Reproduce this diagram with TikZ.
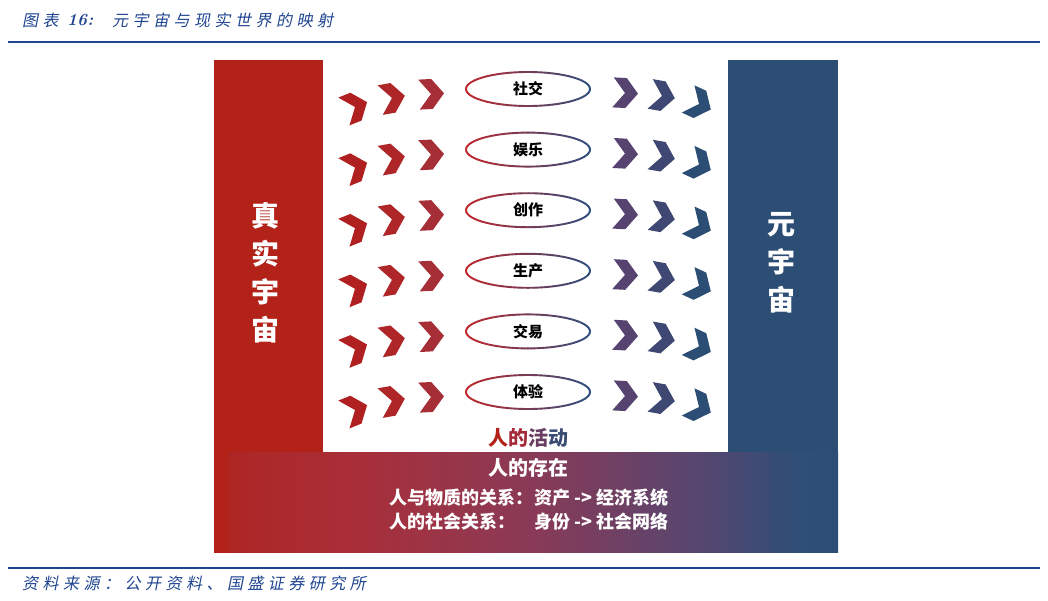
\documentclass[tikz,border=0pt]{standalone}
\usepackage{fontspec}
\usetikzlibrary{calc}
\newfontfamily\cjk{Noto Sans CJK SC}
\newfontfamily\kai[FakeSlant=0.2,LetterSpace=28]{Noto Sans CJK SC}
\definecolor{ered}{HTML}{B22218}
\definecolor{eblue}{HTML}{2C4E75}
\definecolor{g0}{HTML}{AE2624}
\definecolor{g1}{HTML}{A82F3A}
\definecolor{g2}{HTML}{8A3A56}
\definecolor{g3}{HTML}{564670}
\definecolor{g4}{HTML}{2E4F76}
\definecolor{g5}{HTML}{2C4E75}
\definecolor{tblue}{HTML}{1F4591}
\definecolor{elred}{HTML}{C0282E}
\definecolor{elblue}{HTML}{2F4F7E}
\definecolor{cl1}{HTML}{B12020}
\definecolor{cl2}{HTML}{AE2628}
\definecolor{cl3}{HTML}{A62E36}
\definecolor{cr1}{HTML}{56436F}
\definecolor{cr2}{HTML}{3F4872}
\definecolor{cr3}{HTML}{2C4E75}
\definecolor{a1}{HTML}{B22218}
\definecolor{a2}{HTML}{A42A3A}
\definecolor{a3}{HTML}{6A3E62}
\definecolor{a4}{HTML}{3A4C74}
\tikzset{
  chev/.pic={\fill (-12,-15) -- (1,-15) -- (13,0) -- (1,15) -- (-12,15) -- (0,0) -- cycle;},
  vtext/.style={text=white,font=\cjk\bfseries\fontsize{28}{38}\selectfont,align=center,inner sep=0},
  acttext/.style={font=\cjk\bfseries\fontsize{15}{15}\selectfont,text=black,inner sep=0},
  btext/.style={text=white,font=\cjk\bfseries\fontsize{18}{18}\selectfont,inner sep=0,anchor=west},
  caption/.style={text=tblue,font=\kai\fontsize{16}{16}\selectfont,inner sep=0,anchor=west},
  rule/.style={tblue,line width=2.5}
}
\begin{document}
\begin{tikzpicture}[x=1pt,y=-1pt]
\useasboundingbox (0,0) rectangle (1048,600);
\fill[white] (0,0) rectangle (1048,600);
% title
\node[caption] (t1) at (22,20) {图表};
\node[text=tblue,font=\bfseries\itshape\fontsize{17}{17}\selectfont,inner sep=0,anchor=west] (t2) at (67,20) {16:};
\node[caption] (t3) at (112,20) {元宇宙与现实世界的映射};
\draw[rule] (8,42) -- (1040,42);
% panels
\fill[ered] (214,60) rectangle (323,553);
\fill[eblue] (728,60) rectangle (838,553);
\begin{scope}
\clip (229,452) rectangle (838,553);
\foreach \xa/\xb/\ca/\cb in {229/362/g0/g1,362/530/g1/g2,530/700/g2/g3,700/800/g3/g4,800/838/g4/g5}{
  \pgfmathtruncatemacro\n{(\xb-\xa)/3}
  \foreach \k in {1,...,\n}{
    \pgfmathsetmacro\p{100*(1-(\k-0.5)/\n)}
    \pgfmathsetmacro\xl{\xa+(\k-1)*(\xb-\xa)/\n}
    \pgfmathsetmacro\xr{\xa+\k*(\xb-\xa)/\n+0.7}
    \fill[\ca!\p!\cb] (\xl,452) rectangle (\xr,553);
  }
}
\end{scope}
\node[vtext] (real) at (265,273) {真\\实\\宇\\宙};
\node[vtext] (meta) at (781,263) {元\\宇\\宙};
% activities
\foreach \i/\t in {0/社交,1/娱乐,2/创作,3/生产,4/交易,5/体验}{
  \pgfmathsetmacro\yy{89+60.6*\i}
  \node[acttext] (act\i) at (528,\yy) {\t};
  \foreach \a in {0,6,...,354}{
    \pgfmathsetmacro\p{50*(1-cos(\a+3))}
    \draw[line width=1.9,line cap=round,draw=elred!\p!elblue] ($(act\i)+(\a:62 and 17)$) arc[start angle=\a,end angle=\a+6,x radius=62,y radius=17];
  }
  \pic[fill=cl1,rotate=22] at (355,\yy+18) {chev};
  \pic[fill=cl2,rotate=10] at (392,\yy+9) {chev};
  \pic[fill=cl3,rotate=3] at (431,\yy+5) {chev};
  \pic[fill=cr1,rotate=-3] at (625,\yy+4) {chev};
  \pic[fill=cr2,rotate=-10] at (662,\yy+7) {chev};
  \pic[fill=cr3,rotate=-25] at (699,\yy+15) {chev};
}
\node[font=\cjk\bfseries\fontsize{20}{20}\selectfont,inner sep=0] (act) at (528,438) {\textcolor{a1}{人}\textcolor{a2}{的}\textcolor{a3}{活}\textcolor{a4}{动}};
\node[text=white,font=\cjk\bfseries\fontsize{20}{20}\selectfont,inner sep=0] (exist) at (528,468) {人的存在};
\node[btext] (l1a) at (389,498) {人与物质的关系：};
\node[btext] (l1b) at (534,498) {资产 -> 经济系统};
\node[btext] (l2a) at (389,522) {人的社会关系：};
\node[btext] (l2b) at (534,522) {身份 -> 社会网络};
% footer
\draw[rule] (8,568) -- (1040,568);
\node[caption] (src) at (22,583) {资料来源：公开资料、国盛证券研究所};
\end{tikzpicture}
\end{document}
